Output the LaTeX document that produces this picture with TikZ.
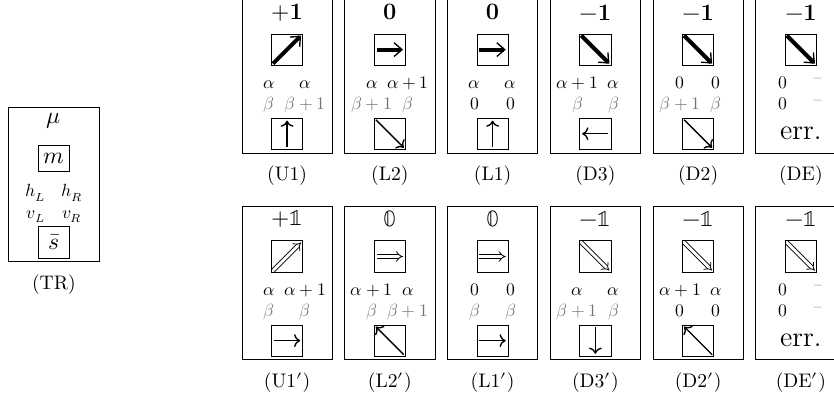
\documentclass[tikz,border=0pt]{standalone}
\usepackage{unicode-math}
\usepackage{array}
\usepackage{xcolor}
\usetikzlibrary{positioning,arrows.meta}
\newcolumntype{C}{w{c}{18.4pt}}
\newcommand{\gr}[1]{\textcolor{black!55}{#1}}

\begin{document}
\begin{tikzpicture}[node distance=6pt, font=\normalsize]
  \tikzset{frame/.style={rectangle, draw, minimum width=46pt, minimum height=78.5pt, inner sep=0pt},
    head/.style={font=\large, inner sep=0pt},
    abox/.style={rectangle, draw, minimum size=16pt, inner sep=0pt},
    vals/.style={font=\small, inner sep=0pt},
    tag/.style={font=\normalsize},
    fatarr/.style={line width=2pt, -{Straight Barb[line width=0.7pt, length=4pt, width=7pt]}, shorten <=1.5pt, shorten >=1.5pt},
    dblarr/.style={double, double distance=1.5pt, -{Implies}, shorten <=1.5pt, shorten >=1.5pt},
    lowarr/.style={line width=0.7pt, -{To}, shorten <=1.5pt, shorten >=1.5pt}}
  \useasboundingbox (0,0) rectangle (425.3pt,-202pt);

  % frames
  \node[frame] (tr) at (27.5pt,-94.1pt) {};
  \node[frame] (u1) at (146.4pt,-38.75pt) {};
  \node[frame, right=of u1] (l2) {};
  \node[frame, right=of l2] (l1) {};
  \node[frame, right=of l1] (d3) {};
  \node[frame, right=of d3] (d2) {};
  \node[frame, right=of d2] (de) {};
  \node[frame, below=26.6pt of u1] (u1p) {};
  \node[frame, right=of u1p] (l2p) {};
  \node[frame, right=of l2p] (l1p) {};
  \node[frame, right=of l1p] (d3p) {};
  \node[frame, right=of d3p] (d2p) {};
  \node[frame, right=of d2p] (dep) {};

  % small boxes
  \foreach \p in {u1,l2,l1,d3,d2,de,u1p,l2p,l1p,d3p,d2p,dep}
    \node[abox] (\p a) at ([yshift=-26pt]\p.north) {};
  \foreach \p in {u1,l2,l1,d3,d2,u1p,l2p,l1p,d3p,d2p}
    \node[abox] (\p b) at ([yshift=-68.9pt]\p.north) {};

  % TR
  \node[head] (trh) at ([yshift=-7pt]tr.north) {$\mu$};
  \node[abox, minimum height=13pt, font=\large] (trm) at ([yshift=-26pt]tr.north) {$m$};
  \node[vals] (trv) at ([yshift=-49pt]tr.north) {$\begin{array}{@{}C@{}C@{}} h_L & h_R \\ v_L & v_R \end{array}$};
  \node[abox, font=\large] (trs) at ([yshift=-68.9pt]tr.north) {$\bar{s}$};
  \node[tag, below=3pt of tr] (trt) {(TR)};

  % top row
  \node[head] (u1h) at ([yshift=-7pt]u1.north) {$\mathbf{+1}$};
  \node[head] (l2h) at ([yshift=-7pt]l2.north) {$\mathbf{0}$};
  \node[head] (l1h) at ([yshift=-7pt]l1.north) {$\mathbf{0}$};
  \node[head] (d3h) at ([yshift=-7pt]d3.north) {$\mathbf{-1}$};
  \node[head] (d2h) at ([yshift=-7pt]d2.north) {$\mathbf{-1}$};
  \node[head] (deh) at ([yshift=-7pt]de.north) {$\mathbf{-1}$};
  \node[vals] (u1v) at ([yshift=-49pt]u1.north) {$\begin{array}{@{}C@{}C@{}} \alpha & \alpha \\ \gr{\beta} & \gr{\beta+1} \end{array}$};
  \node[vals] (l2v) at ([yshift=-49pt]l2.north) {$\begin{array}{@{}C@{}C@{}} \alpha & \alpha+1 \\ \gr{\beta+1} & \gr{\beta} \end{array}$};
  \node[vals] (l1v) at ([yshift=-49pt]l1.north) {$\begin{array}{@{}C@{}C@{}} \alpha & \alpha \\ 0 & 0 \end{array}$};
  \node[vals] (d3v) at ([yshift=-49pt]d3.north) {$\begin{array}{@{}C@{}C@{}} \alpha+1 & \alpha \\ \gr{\beta} & \gr{\beta} \end{array}$};
  \node[vals] (d2v) at ([yshift=-49pt]d2.north) {$\begin{array}{@{}C@{}C@{}} 0 & 0 \\ \gr{\beta+1} & \gr{\beta} \end{array}$};
  \node[vals] (dev) at ([yshift=-49pt]de.north) {$\begin{array}{@{}C@{}C@{}} 0 & \gr{{}^-} \\ 0 & \gr{{}^-} \end{array}$};
  \node[font=\Large] (dee) at ([yshift=-68.9pt]de.north) {err.};
  \node[tag, below=3pt of u1] (u1t) {(U1)};
  \node[tag, below=3pt of l2] (l2t) {(L2)};
  \node[tag, below=3pt of l1] (l1t) {(L1)};
  \node[tag, below=3pt of d3] (d3t) {(D3)};
  \node[tag, below=3pt of d2] (d2t) {(D2)};
  \node[tag, below=3pt of de] (det) {(DE)};

  % bottom row
  \node[head] (u1ph) at ([yshift=-7pt]u1p.north) {$+\mathbb{1}$};
  \node[head] (l2ph) at ([yshift=-7pt]l2p.north) {$\mathbb{0}$};
  \node[head] (l1ph) at ([yshift=-7pt]l1p.north) {$\mathbb{0}$};
  \node[head] (d3ph) at ([yshift=-7pt]d3p.north) {$-\mathbb{1}$};
  \node[head] (d2ph) at ([yshift=-7pt]d2p.north) {$-\mathbb{1}$};
  \node[head] (deph) at ([yshift=-7pt]dep.north) {$-\mathbb{1}$};
  \node[vals] (u1pv) at ([yshift=-49pt]u1p.north) {$\begin{array}{@{}C@{}C@{}} \alpha & \alpha+1 \\ \gr{\beta} & \gr{\beta} \end{array}$};
  \node[vals] (l2pv) at ([yshift=-49pt]l2p.north) {$\begin{array}{@{}C@{}C@{}} \alpha+1 & \alpha \\ \gr{\beta} & \gr{\beta+1} \end{array}$};
  \node[vals] (l1pv) at ([yshift=-49pt]l1p.north) {$\begin{array}{@{}C@{}C@{}} 0 & 0 \\ \gr{\beta} & \gr{\beta} \end{array}$};
  \node[vals] (d3pv) at ([yshift=-49pt]d3p.north) {$\begin{array}{@{}C@{}C@{}} \alpha & \alpha \\ \gr{\beta+1} & \gr{\beta} \end{array}$};
  \node[vals] (d2pv) at ([yshift=-49pt]d2p.north) {$\begin{array}{@{}C@{}C@{}} \alpha+1 & \alpha \\ 0 & 0 \end{array}$};
  \node[vals] (depv) at ([yshift=-49pt]dep.north) {$\begin{array}{@{}C@{}C@{}} 0 & \gr{{}^-} \\ 0 & \gr{{}^-} \end{array}$};
  \node[font=\Large] (depe) at ([yshift=-68.9pt]dep.north) {err.};
  \node[tag, below=3pt of u1p] (u1pt) {(U1$'$)};
  \node[tag, below=3pt of l2p] (l2pt) {(L2$'$)};
  \node[tag, below=3pt of l1p] (l1pt) {(L1$'$)};
  \node[tag, below=3pt of d3p] (d3pt) {(D3$'$)};
  \node[tag, below=3pt of d2p] (d2pt) {(D2$'$)};
  \node[tag, below=3pt of dep] (dept) {(DE$'$)};

  % arrows
  \foreach \p/\s/\e in {u1/south west/north east, l2/west/east, l1/west/east, d3/north west/south east, d2/north west/south east, de/north west/south east}
    \draw[fatarr] (\p a.\s) -- (\p a.\e);
  \foreach \p/\s/\e in {u1p/south west/north east, l2p/west/east, l1p/west/east, d3p/north west/south east, d2p/north west/south east, dep/north west/south east}
    \draw[dblarr] (\p a.\s) -- (\p a.\e);
  \foreach \p/\s/\e in {u1/south/north, l2/north west/south east, l1/south/north, d3/east/west, d2/north west/south east, u1p/west/east, l2p/south east/north west, l1p/west/east, d3p/north/south, d2p/south east/north west}
    \draw[lowarr] (\p b.\s) -- (\p b.\e);
\end{tikzpicture}
\end{document}
